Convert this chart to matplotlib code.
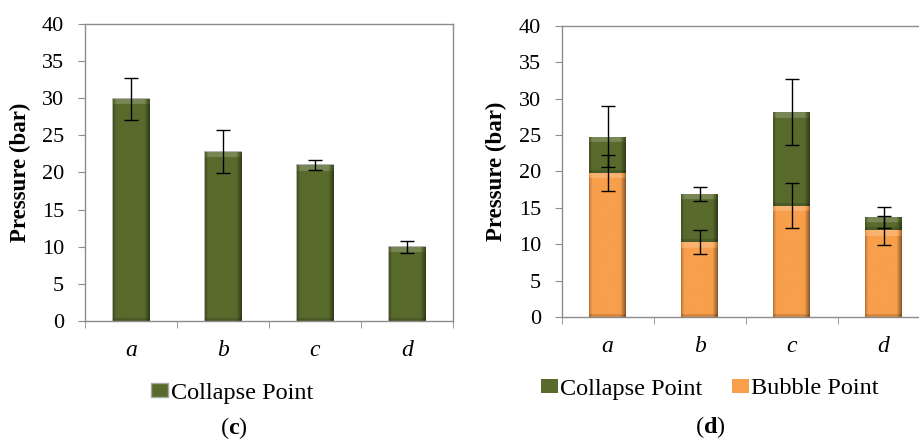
import matplotlib.pyplot as plt
import numpy as np

# Panel (c): collapse point only
cats = ['a', 'b', 'c', 'd']
collapse_c = [29.9, 22.8, 21.0, 10.0]
collapse_c_err = [2.85, 2.9, 0.65, 0.8]

# Panel (d): bubble point with collapse point stacked on top (total heights)
bubble_d = [19.8, 10.3, 15.3, 11.9]
bubble_d_err = [2.45, 1.7, 3.05, 2.0]
collapse_d = [24.8, 16.9, 28.2, 13.7]
collapse_d_err = [4.2, 0.9, 4.55, 1.45]

green = np.array([0x58, 0x6a, 0x2c]) / 255
orange = np.array([0xf8, 0x9f, 0x4c]) / 255
spine_col = '#8c8c8c'
fs = 16
leg_fs = 17.5

plt.rcParams['font.family'] = 'serif'
plt.rcParams['font.serif'] = ['Liberation Serif', 'DejaVu Serif']
plt.rcParams['mathtext.fontset'] = 'custom'
plt.rcParams['mathtext.rm'] = 'Liberation Serif'
plt.rcParams['mathtext.bf'] = 'Liberation Serif:bold'
plt.rcParams['mathtext.it'] = 'Liberation Serif:italic'


def bevel(ax, patch, base):
    # fake the office-style bevel: dark sides, light top band
    x0, y0 = patch.get_xy()
    w, h = patch.get_width(), patch.get_height()
    nx = 60
    ny = max(int(h * 10), 2)
    xs = np.linspace(0, 1, nx)
    fx = np.ones(nx)
    fx[xs < 0.08] = 0.75 + 3 * xs[xs < 0.08]
    m = xs > 0.86
    fx[m] = 1.0 - (xs[m] - 0.86) * 3.2
    ys = np.linspace(0, h, ny)
    fy = np.ones(ny)
    fy[ys > h - 0.8] = 1.2
    fy[ys < 0.35] = 0.85
    f = np.outer(fy, fx)[..., None]
    img = np.where(f > 1, base + (1 - base) * (f - 1), base * f)
    img = np.clip(img, 0, 1)
    im = ax.imshow(img, extent=(x0, x0 + w, y0, y0 + h), aspect='auto',
                   origin='lower', interpolation='bilinear',
                   zorder=patch.get_zorder() + 0.1)
    im.set_clip_path(patch)


def style_axes(ax, ylabel_x):
    ax.set_xlim(-0.5, 3.5)
    ax.set_ylim(0, 40)
    ax.set_yticks(np.arange(0, 41, 5))
    ax.set_xticks(range(4))
    ax.set_xticklabels(cats, fontstyle='italic', fontsize=fs + 1)
    ax.set_xticks(np.arange(-0.5, 4, 1), minor=True)
    ax.tick_params(axis='x', which='major', length=0, pad=14)
    ax.tick_params(axis='x', which='minor', length=5, direction='out', color=spine_col)
    ax.tick_params(axis='y', length=5, direction='out', color=spine_col, labelsize=fs, pad=10)
    for s in ax.spines.values():
        s.set_color(spine_col)
        s.set_linewidth(1.0)
    ax.set_ylabel('Pressure (bar)', fontweight='bold', fontsize=16.5)
    ax.yaxis.set_label_coords(ylabel_x, 0.5)


fig = plt.figure(figsize=(9.19, 4.41), dpi=100)
x = np.arange(len(cats))

# (c)
ax1 = fig.add_axes([0.0925, 0.2721, 0.4004, 0.6735])
bars = ax1.bar(x, collapse_c, width=0.4, color=green, edgecolor='#a6a6a6', linewidth=1.2, zorder=2)
for b in bars:
    bevel(ax1, b, green)
ax1.errorbar(x, collapse_c, yerr=collapse_c_err, fmt='none', ecolor='black', elinewidth=1.0,
             capsize=5, capthick=1.0, zorder=5)
style_axes(ax1, -0.147)
ax1.legend([plt.Rectangle((0, 0), 1, 1, fc=green, ec='#a6a6a6')], ['Collapse Point'],
           loc='center', bbox_to_anchor=(232 / 919, 1 - 393 / 441),
           bbox_transform=fig.transFigure, frameon=False, fontsize=leg_fs,
           handlelength=0.7, handleheight=0.55, handletextpad=0.1, borderpad=0)

# (d)
ax2 = fig.add_axes([0.6112, 0.2812, 0.4004, 0.6599])
bb = ax2.bar(x, bubble_d, width=0.4, color=orange, linewidth=0, zorder=2)
top = [t - b for t, b in zip(collapse_d, bubble_d)]
bc = ax2.bar(x, top, bottom=bubble_d, width=0.4, color=green, linewidth=0, zorder=2)
for b in bb:
    bevel(ax2, b, orange)
for b in bc:
    bevel(ax2, b, green)
ax2.errorbar(x, bubble_d, yerr=bubble_d_err, fmt='none', ecolor='black', elinewidth=1.0,
             capsize=5, capthick=1.0, zorder=5)
ax2.errorbar(x, collapse_d, yerr=collapse_d_err, fmt='none', ecolor='black', elinewidth=1.0,
             capsize=5, capthick=1.0, zorder=5)
style_axes(ax2, -0.149)
ax2.legend([plt.Rectangle((0, 0), 1, 1, fc=green), plt.Rectangle((0, 0), 1, 1, fc=orange)],
           ['Collapse Point', 'Bubble Point'],
           loc='center', bbox_to_anchor=(710 / 919, 1 - 389 / 441),
           bbox_transform=fig.transFigure, frameon=False, fontsize=leg_fs, ncol=2,
           handlelength=0.7, handleheight=0.55, handletextpad=0.1, columnspacing=1.2, borderpad=0)

fig.text(234 / 919, 1 - 428 / 441, r'($\mathbf{c}$)', ha='center', va='center', fontsize=17.5)
fig.text(710 / 919, 1 - 427 / 441, r'($\mathbf{d}$)', ha='center', va='center', fontsize=17.5)

fig.savefig('out.png', dpi=100)
